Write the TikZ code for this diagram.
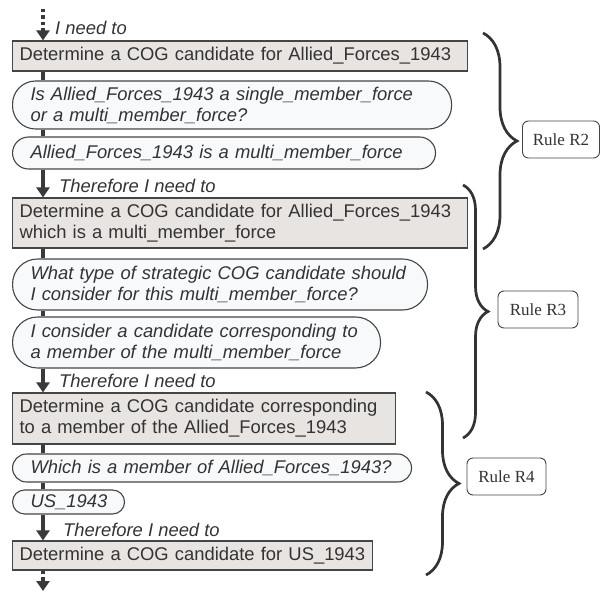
\documentclass[tikz,border=0pt]{standalone}
\usepackage{fontspec}
\setmainfont{Liberation Sans}
\newfontfamily\rulefont{Liberation Serif}
\usetikzlibrary{arrows.meta,decorations.pathreplacing,calc}
\definecolor{boxfill}{HTML}{E8E4E1}
\definecolor{pillfill}{HTML}{F8F9FB}
\definecolor{edge}{HTML}{454545}
\definecolor{ink}{HTML}{333333}
\definecolor{stem}{HTML}{3A3A3A}
\begin{document}
\begin{tikzpicture}[x=1pt,y=-1pt,
  every node/.style={text=ink},
  txt/.style={font=\fontsize{18.4pt}{21pt}\selectfont},
  taskbox/.style={txt, draw=edge, line width=1.1pt, fill=boxfill, rectangle,
    inner xsep=7pt, inner ysep=0pt, align=left, anchor=west},
  pill/.style={txt, draw=edge, line width=1.1pt, fill=pillfill, rectangle,
    inner xsep=18pt, inner ysep=0pt, align=left, anchor=west, font=\fontsize{18.4pt}{21pt}\selectfont\itshape},
  lbl/.style={font=\fontsize{18.4pt}{21pt}\selectfont\itshape, anchor=base west, inner sep=0pt},
  rulebox/.style={draw=edge, line width=0.9pt, fill=white, rounded corners=6pt,
    font=\rulefont\fontsize{17pt}{20pt}\selectfont, minimum height=37pt, inner sep=0pt},
  link/.style={draw=stem, line width=3.6pt},
  arr/.style={link, -{Triangle[width=13pt,length=10pt]}},
  dotarr/.style={draw=stem, line width=3.6pt, dash pattern=on 3.5pt off 3pt, -{Triangle[width=13pt,length=10pt]}},
  rbrace/.style={draw=ink, line width=2.7pt, decorate, decoration={brace, amplitude=#1}}
]
\useasboundingbox (0,0) rectangle (600,593);

\coordinate (col) at (43,0);
\coordinate (top) at (43,9);
\coordinate (bot) at (43,591);

\node[taskbox, text width=441pt, minimum height=30pt] (b1) at (12,56)
  {Determine a COG candidate for Allied\_Forces\_1943};
\node[pill, text width=403pt, minimum height=48pt, rounded corners=23pt] (p1) at (12,105)
  {Is Allied\_Forces\_1943 a single\_member\_force\\or a multi\_member\_force?};
\node[pill, text width=387pt, minimum height=32pt, rounded corners=16pt] (p2) at (12,153)
  {Allied\_Forces\_1943 is a multi\_member\_force};
\node[taskbox, text width=441pt, minimum height=50pt] (b2) at (12,223)
  {Determine a COG candidate for Allied\_Forces\_1943\\which is a multi\_member\_force};
\node[pill, text width=379pt, minimum height=51pt, rounded corners=25pt] (p3) at (12,284.5)
  {What type of strategic COG candidate should\\I consider for this multi\_member\_force?};
\node[pill, text width=332pt, minimum height=51pt, rounded corners=25pt] (p4) at (12,342.5)
  {I consider a candidate corresponding to\\a member of the multi\_member\_force};
\node[taskbox, text width=369pt, minimum height=51pt] (b3) at (12,418.5)
  {Determine a COG candidate corresponding\\to a member of the Allied\_Forces\_1943};
\node[pill, text width=363pt, minimum height=28pt, rounded corners=14pt] (p5) at (12,468)
  {Which is a member of Allied\_Forces\_1943?};
\node[pill, text width=76pt, minimum height=24pt, rounded corners=12pt] (p6) at (12,502)
  {US\_1943};
\node[taskbox, text width=346pt, minimum height=29pt] (b4) at (12,555.5)
  {Determine a COG candidate for US\_1943};

% connectors
\draw[dotarr] (top) -- (b1.north -| col);
\draw[link] (b1.south -| col) -- (p1.north -| col);
\draw[link] (p1.south -| col) -- (p2.north -| col);
\draw[arr] (p2.south -| col) -- (b2.north -| col);
\draw[link] (b2.south -| col) -- (p3.north -| col);
\draw[link] (p3.south -| col) -- (p4.north -| col);
\draw[arr] (p4.south -| col) -- (b3.north -| col);
\draw[link] (b3.south -| col) -- (p5.north -| col);
\draw[link] (p5.south -| col) -- (p6.north -| col);
\draw[arr] (p6.south -| col) -- (b4.north -| col);
\draw[dotarr] (b4.south -| col) -- (bot);

% labels
\node[lbl] (l0) at (55,35) {I need to};
\node[lbl] (l1) at (59,193) {Therefore I need to};
\node[lbl] (l2) at (59,388) {Therefore I need to};
\node[lbl] (l3) at (63,536) {Therefore I need to};

% braces
\coordinate (r2a) at (483,33);  \coordinate (r2b) at (483,249);
\coordinate (r3a) at (463,185); \coordinate (r3b) at (463,438);
\coordinate (r4a) at (426,392); \coordinate (r4b) at (426,575);
\draw[rbrace=34pt] (r2a) -- (r2b);
\draw[rbrace=25pt] (r3a) -- (r3b);
\draw[rbrace=33pt] (r4a) -- (r4b);

\node[rulebox, minimum width=77pt] (R2) at (561,139.5) {Rule R2};
\node[rulebox, minimum width=80pt] (R3) at (538,309.5) {Rule R3};
\node[rulebox, minimum width=79pt] (R4) at (506.5,476.5) {Rule R4};
\end{tikzpicture}
\end{document}
